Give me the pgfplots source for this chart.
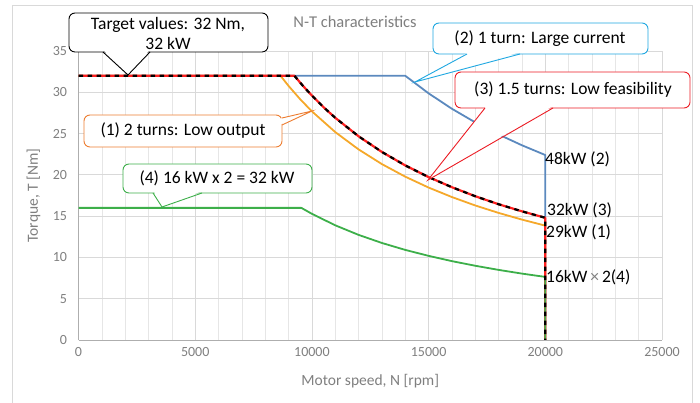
\documentclass[border=0pt]{standalone}
\usepackage{fontspec}
\setmainfont{Carlito}
\usepackage{pgfplots}
\usepackage{pgfplotstable}
\pgfplotsset{compat=1.18}

\definecolor{gridc}{HTML}{D9D9D9}
\definecolor{gridm}{HTML}{E6E6E6}
\definecolor{tickc}{HTML}{7F7F7F}
\definecolor{labc}{HTML}{7F7F7F}
\definecolor{blueL}{HTML}{5B89BE}
\definecolor{orangeL}{HTML}{F5A82A}
\definecolor{greenL}{HTML}{3DAF4A}
\definecolor{redL}{HTML}{FF1F1F}
\definecolor{cyanC}{HTML}{1EA7E1}
\definecolor{redC}{HTML}{EC1C24}
\definecolor{orangeC}{HTML}{ED7D31}
\definecolor{greenC}{HTML}{3DAF4A}

% (2) 1 turn
\pgfplotstableread{
N T
0 32
14000 32
15000 29.87
16000 28.0
17000 26.35
18000 24.89
19000 23.58
20000 22.4
20000 0
}\bluedata
% (1) 2 turns
\pgfplotstableread{
N T
0 32
8654 32
9000 30.77
9500 29.15
10000 27.69
11000 25.18
12000 23.08
13000 21.30
14000 19.78
15000 18.46
16000 17.31
17000 16.29
18000 15.39
19000 14.58
20000 13.85
20000 0
}\orangedata
% (3) 1.5 turns
\pgfplotstableread{
N T
0 32
9250 32
9600 30.83
10000 29.6
10500 28.19
11000 26.91
12000 24.67
13000 22.77
14000 21.14
15000 19.73
16000 18.5
17000 17.41
18000 16.44
19000 15.58
20000 14.8
20000 0
}\reddata
% (4) 16 kW x 2
\pgfplotstableread{
N T
0 16
9549 16
10000 15.28
11000 13.89
12000 12.73
13000 11.75
14000 10.91
15000 10.19
16000 9.55
17000 8.99
18000 8.49
19000 8.04
20000 7.64
20000 0
}\greendata

\newcommand{\cfont}{\fontsize{17.5}{20}\selectfont}

\begin{document}
\begin{tikzpicture}[x=1pt,y=1pt]
\useasboundingbox (0,0) rectangle (700,403);
\draw[gridc, line width=0.8pt] (12,0) -- (12,398) -- (692,398) -- (692,0);

\begin{axis}[
  at={(78.5pt,63pt)}, anchor=south west,
  scale only axis, width=583.5pt, height=289pt,
  xmin=0, xmax=25000, ymin=0, ymax=35,
  xtick={0,5000,...,25000}, minor x tick num=4,
  ytick={0,5,...,35},
  xmajorgrids, xminorgrids, ymajorgrids,
  major grid style={gridc, line width=0.8pt},
  minor grid style={gridm, line width=0.6pt},
  axis lines*=left,
  axis line style={draw=gridc!80!black, line width=0.8pt},
  tick style={draw=none},
  scaled x ticks=false,
  /pgf/number format/1000 sep={},
  /pgf/number format/assume math mode=true,
  ticklabel style={font=\fontsize{14}{14}\selectfont, text=tickc},
  xticklabel style={yshift=-4pt},
  yticklabel style={xshift=-8pt},
  xlabel={Motor speed, N [rpm]},
  ylabel={Torque, T [Nm]},
  label style={font=\fontsize{15.5}{17}\selectfont, text=labc},
  xlabel style={at={(axis description cs:0.5,-0.1419)}, anchor=center},
  ylabel style={at={(axis description cs:-0.077,0.5)}, anchor=center},
  every axis plot/.append style={line join=round},
]
\addplot[blueL, line width=1.8pt] table[x=N,y=T] {\bluedata};
\addplot[orangeL, line width=1.8pt] table[x=N,y=T] {\orangedata};
\addplot[redL, line width=2.2pt] table[x=N,y=T] {\reddata};
\addplot[greenL, line width=1.8pt] table[x=N,y=T] {\greendata};
\addplot[black, line width=2.2pt, dash pattern=on 4.5pt off 4.5pt] table[x=N,y=T] {\reddata};
\end{axis}

\node[text=labc, font=\fontsize{16.5}{18}\selectfont] at (355,381) {N-T characteristics};

\begin{scope}[shift={(0,403)}, yscale=-1]
  % Target
  \filldraw[draw=black, fill=white, line width=0.9pt, rounded corners=6pt] (69,13) rectangle (268,52);
  \fill[white] (104,50.5) -- (128,75) -- (149,50.5) -- cycle;
  \draw[black, line width=0.9pt] (103,52) -- (128,75) -- (150,52);
  \node[align=center, font=\cfont, inner sep=0pt] at (168,33) {Target values: 32 Nm,\\32 kW};
  % (2)
  \filldraw[draw=cyanC, fill=white, line width=0.9pt, rounded corners=6pt] (433,23) rectangle (648,54);
  \fill[white] (468,52.5) -- (415,82) -- (519,52.5) -- cycle;
  \draw[cyanC, line width=0.9pt] (467,54) -- (415,82) -- (520,54);
  \node[font=\cfont] at (540,39) {(2) 1 turn: Large current};
  % (3)
  \filldraw[draw=redC, fill=white, line width=0.9pt, rounded corners=6pt] (455,72) rectangle (690,108);
  \fill[white] (486,106.5) -- (428,180) -- (552,106.5) -- cycle;
  \draw[redC, line width=0.9pt] (485,108) -- (428,180) -- (553,108);
  \node[font=\cfont] at (573,90) {(3) 1.5 turns: Low feasibility};
  % (1)
  \filldraw[draw=orangeC, fill=white, line width=0.9pt, rounded corners=6pt] (84,115) rectangle (282,147);
  \fill[white] (280.5,118.5) -- (312,111) -- (280.5,124.5) -- cycle;
  \draw[orangeC, line width=0.9pt] (282,118) -- (312,111) -- (282,125);
  \node[font=\cfont] at (183,131) {(1) 2 turns: Low output};
  % (4)
  \filldraw[draw=greenC, fill=white, line width=0.9pt, rounded corners=6pt] (123,164) rectangle (312,193);
  \fill[white] (154,191.5) -- (162,207) -- (201,191.5) -- cycle;
  \draw[greenC, line width=0.9pt] (153,193) -- (162,207) -- (202,193);
  \node[font=\cfont] at (217,178) {(4) 16 kW x 2 = 32 kW};
  % end labels
  \node[anchor=west, font=\cfont, inner sep=0pt] at (545,159) {48kW (2)};
  \node[anchor=west, font=\cfont, inner sep=0pt] at (547,210) {32kW (3)};
  \node[anchor=west, font=\cfont, inner sep=0pt] at (546,232) {29kW (1)};
  \node[anchor=west, font=\cfont, inner sep=0pt] at (546,277) {16kW\,{\color{tickc}×}\,2(4)};
\end{scope}
\end{tikzpicture}
\end{document}
